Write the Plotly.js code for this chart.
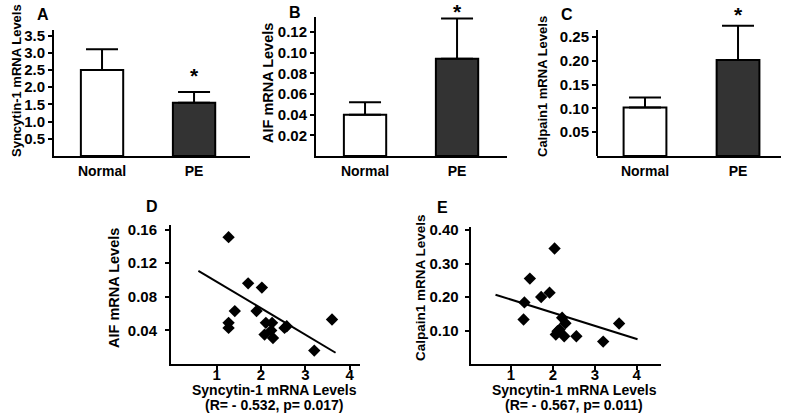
<!DOCTYPE html>
<html>
<head>
<meta charset="utf-8">
<script src="https://cdn.plot.ly/plotly-3.0.1.min.js"></script>
<style>html,body{margin:0;padding:0;background:#fff}#chart{width:787px;height:414px}</style>
</head>
<body>
<div id="chart"></div>
<script>
// ---- Data ----
var categories = ['Normal', 'PE'];
var syncytinMeans = [2.5, 1.55];
var syncytinErr = [0.6, 0.31];
var aifMeans = [0.040, 0.094];
var aifErr = [0.012, 0.039];
var calpainMeans = [0.102, 0.202];
var calpainErr = [0.021, 0.072];

var dSyncytin = [1.27, 1.71, 2.02, 1.41, 1.90, 1.27, 1.27, 2.11, 2.25, 2.23, 2.08, 2.27, 2.53, 2.58, 3.20, 3.60];
var dAif = [0.151, 0.096, 0.091, 0.063, 0.063, 0.049, 0.043, 0.049, 0.049, 0.040, 0.035, 0.031, 0.043, 0.045, 0.016, 0.053];
var dFitX = [0.59, 3.68];
var dFitY = [0.111, 0.0134];

var eSyncytin = [2.04, 1.45, 1.72, 1.92, 1.32, 1.30, 2.22, 2.30, 2.16, 2.11, 2.07, 2.27, 2.56, 3.20, 3.58];
var eCalpain = [0.345, 0.255, 0.200, 0.213, 0.184, 0.133, 0.138, 0.122, 0.103, 0.098, 0.088, 0.083, 0.083, 0.067, 0.121];
var eFitX = [0.63, 4.02];
var eFitY = [0.207, 0.074];

var syncytinTicks = [0.5, 1.0, 1.5, 2.0, 2.5, 3.0, 3.5];
var aifTicks = [0.02, 0.04, 0.06, 0.08, 0.10, 0.12];
var calpainTicks = [0.05, 0.10, 0.15, 0.20, 0.25];
var dYTicks = [0.04, 0.08, 0.12, 0.16];
var eYTicks = [0.10, 0.20, 0.30, 0.40];
var scatterXTicks = [1, 2, 3, 4];

var panelLabels = ['A', 'B', 'C', 'D', 'E'];
var yTitles = ['Syncytin-1 mRNA Levels', 'AIF mRNA Levels', 'Calpain1 mRNA Levels', 'AIF mRNA Levels', 'Calpain1 mRNA Levels'];
var scatterXTitle = 'Syncytin-1 mRNA Levels';
var statsD = '(R= - 0.532, p= 0.017)';
var statsE = '(R= - 0.567, p= 0.011)';

// ---- Styles ----
var FONT = 'Liberation Sans, Arial, Helvetica, sans-serif';
var W = 787, H = 414;
function px(x) { return x / W; }
function py(y) { return 1 - y / H; }
var barColors = ['#ffffff', '#333333'];

function barTrace(means, errs, xa, ya) {
  return {
    type: 'bar', x: categories, y: means, xaxis: xa, yaxis: ya, width: 0.46,
    marker: { color: barColors, line: { color: '#000', width: 2 } },
    error_y: { type: 'data', array: errs, arrayminus: [0, 0], symmetric: false,
      color: '#000', thickness: 2, width: 16 },
    cliponaxis: false, showlegend: false, hoverinfo: 'skip'
  };
}
function scatterTrace(xs, ys, xa, ya) {
  return { type: 'scatter', mode: 'markers', x: xs, y: ys, xaxis: xa, yaxis: ya,
    marker: { symbol: 'diamond', size: 9.5, color: '#000' }, showlegend: false, cliponaxis: false };
}
function lineTrace(xs, ys, xa, ya) {
  return { type: 'scatter', mode: 'lines', x: xs, y: ys, xaxis: xa, yaxis: ya,
    line: { color: '#000', width: 2 }, showlegend: false };
}
// empty trace that only registers the label-only overlay axis
function holderTrace(xa, ya) {
  return { type: 'scatter', mode: 'markers', x: [], y: [], xaxis: xa, yaxis: ya, showlegend: false, hoverinfo: 'skip' };
}

var data = [
  barTrace(syncytinMeans, syncytinErr, 'x', 'y'),
  barTrace(aifMeans, aifErr, 'x2', 'y2'),
  barTrace(calpainMeans, calpainErr, 'x3', 'y3'),
  lineTrace(dFitX, dFitY, 'x4', 'y4'),
  scatterTrace(dSyncytin, dAif, 'x4', 'y4'),
  lineTrace(eFitX, eFitY, 'x5', 'y5'),
  scatterTrace(eSyncytin, eCalpain, 'x5', 'y5'),
  holderTrace('x6', 'y4'),
  holderTrace('x7', 'y5')
];

var tickFont = { family: FONT, size: 15, color: '#000', weight: 'bold' };
var catFont = { family: FONT, size: 14, color: '#000', weight: 'bold' };

function catAxis(domain, range, anchor) {
  return { domain: domain, range: range, anchor: anchor, type: 'category',
    showline: true, linecolor: '#000', linewidth: 2, ticks: '', showgrid: false, zeroline: false,
    tickfont: catFont, ticklabelstandoff: 1, fixedrange: true };
}
function valAxis(domain, range, anchor, tickvals, fmt) {
  return { domain: domain, range: range, anchor: anchor,
    showline: true, linecolor: '#000', linewidth: 2, ticks: 'outside', ticklen: 4, tickwidth: 2, tickcolor: '#000',
    tickvals: tickvals, tickformat: fmt, showgrid: false, zeroline: false, tickfont: tickFont, fixedrange: true };
}
// label-only axis laid over a scatter x axis, so the numbers sit close under the tick marks
function labelAxis(base, range, anchor) {
  return { overlaying: base, range: range, anchor: anchor, showline: false, ticks: '',
    tickvals: scatterXTicks, tickformat: 'd', showgrid: false, zeroline: false,
    tickfont: tickFont, fixedrange: true };
}

var annotations = [];
function ann(text, x, y, size, angle) {
  annotations.push({ text: text, xref: 'paper', yref: 'paper', x: px(x), y: py(y),
    xanchor: 'center', yanchor: 'middle', showarrow: false, textangle: angle || 0,
    font: { family: FONT, size: size, color: '#000', weight: 'bold' } });
}
// panel letters
ann(panelLabels[0], 42.5, 14, 16);
ann(panelLabels[1], 294.5, 12, 16);
ann(panelLabels[2], 566.5, 14, 16);
ann(panelLabels[3], 152, 206, 16);
ann(panelLabels[4], 442, 207, 16);
// y titles
ann(yTitles[0], 17, 81, 13, -90);
ann(yTitles[1], 268, 83, 14.5, -90);
ann(yTitles[2], 542, 87, 13, -90);
ann(yTitles[3], 114, 288, 14.5, -90);
ann(yTitles[4], 420, 288, 13.5, -90);
// scatter x titles
ann(scatterXTitle, 274, 390, 14);
ann(statsD, 274, 405, 14);
ann(scatterXTitle, 574, 390, 14);
ann(statsE, 574, 405, 14);
// significance stars anchored on the PE error-bar tops
function star(xa, ya, top, shift) {
  annotations.push({ text: '*', xref: xa, yref: ya, x: 'PE', y: top, yshift: shift,
    xanchor: 'center', yanchor: 'middle', showarrow: false,
    font: { family: FONT, size: 21, color: '#000', weight: 'bold' } });
}
star('x', 'y', syncytinMeans[1] + syncytinErr[1], 16);
star('x2', 'y2', aifMeans[1] + aifErr[1], 7);
star('x3', 'y3', calpainMeans[1] + calpainErr[1], 11);

var rangeX4 = [-0.027, 4.23];
var rangeX5 = [0.038, 4.573];
var scatterX4 = valAxis([px(171), px(360)], rangeX4, 'y4', scatterXTicks, 'd');
scatterX4.showticklabels = false;
var scatterX5 = valAxis([px(470.7), px(660.7)], rangeX5, 'y5', scatterXTicks, 'd');
scatterX5.showticklabels = false;

var yaxis4 = valAxis([py(364), py(225)], [0, 0.1655], 'x4', dYTicks, '.2f');
yaxis4.ticklabelstandoff = 5;
var yaxis5 = valAxis([py(364), py(226.7)], [0, 0.41], 'x5', eYTicks, '.2f');
yaxis5.ticklabelstandoff = 3;

// panel C: plot area extends above the drawn axis so the tall error bar is not clipped
var yaxis3 = valAxis([py(156), py(4)], [0, 0.3197], 'x3', calpainTicks, '.2f');
yaxis3.showline = false;
var calpainAxisTop = 0.265;

var layout = {
  width: W, height: H, margin: { l: 0, r: 0, t: 0, b: 0 },
  paper_bgcolor: '#fff', plot_bgcolor: 'rgba(0,0,0,0)',
  font: { family: FONT, color: '#000', weight: 'bold' },
  showlegend: false,
  xaxis: catAxis([px(54), px(250)], [-0.522, 1.608], 'y'),
  yaxis: valAxis([py(156), py(30)], [0, 3.66], 'x', syncytinTicks, '.1f'),
  xaxis2: catAxis([px(316), px(507)], [-0.533, 1.543], 'y2'),
  yaxis2: valAxis([py(156), py(16.7)], [0, 0.1347], 'x2', aifTicks, '.2f'),
  xaxis3: catAxis([px(597), px(781)], [-0.516, 1.462], 'y3'),
  yaxis3: yaxis3,
  xaxis4: scatterX4,
  yaxis4: yaxis4,
  xaxis5: scatterX5,
  yaxis5: yaxis5,
  xaxis6: labelAxis('x4', rangeX4, 'y4'),
  xaxis7: labelAxis('x5', rangeX5, 'y5'),
  shapes: [
    { type: 'line', xref: 'x3 domain', yref: 'y3', x0: 0, x1: 0, y0: 0, y1: calpainAxisTop,
      line: { color: '#000', width: 2 } }
  ],
  annotations: annotations
};

Plotly.newPlot('chart', data, layout, { staticPlot: true, displayModeBar: false });
</script>
</body>
</html>
